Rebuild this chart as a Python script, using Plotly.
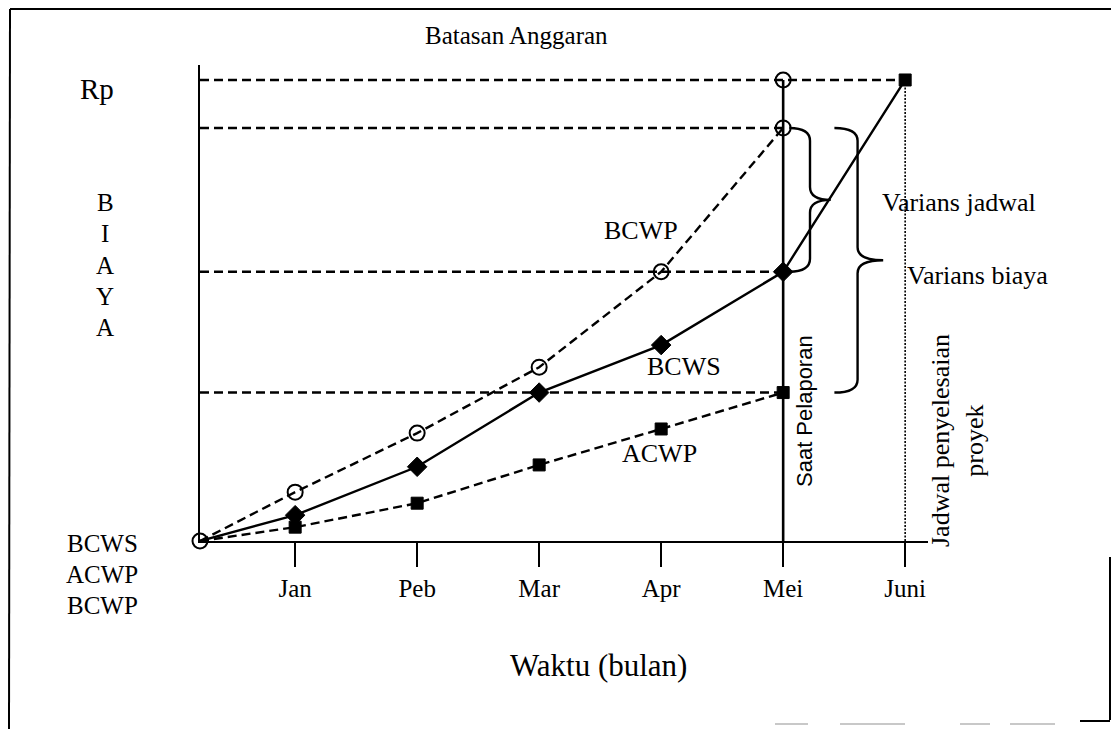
import plotly.graph_objects as go

# ---------------- data ----------------
months = ["Jan", "Peb", "Mar", "Apr", "Mei", "Juni"]
month_pos = [1, 2, 3, 4, 5, 6]
origin_x = 0.22

bcwp_y = [0, 10.6, 23.4, 37.7, 58.4, 89.6]          # origin .. Mei
bcws_y = [0, 5.6, 16.1, 32.2, 42.5, 58.4, 100.0]    # origin .. Juni
acwp_y = [0, 3.0, 8.2, 16.5, 24.3, 32.2]            # origin .. Mei
budget = 100.0
report_month = 5   # Mei  (Saat Pelaporan)
finish_month = 6   # Juni (Jadwal penyelesaian proyek)

bcwp_x = [origin_x] + month_pos[:5]
bcws_x = [origin_x] + month_pos[:6]
acwp_x = [origin_x] + month_pos[:5]

# ---------------- layout geometry (screen pixels) ----------------
W, H = 1119, 729
OFF = 8                      # default page body margin
L, R, T, B = 200, 928, 65, 541
XR = [origin_x, origin_x + (R - L) / 122.0]
YR = [0, 103.25]

def px(x):
    return (x - L) / (R - L)

def py(y):
    return (B - y) / (B - T)

SERIF = "Liberation Serif, Times New Roman, serif"
SANS = "Liberation Sans, Arial, sans-serif"
BLK = "#000000"
DASH = "9px,5px"

fig = go.Figure()

# BCWS (solid, diamonds, square at Juni)
fig.add_trace(go.Scatter(
    x=bcws_x, y=bcws_y, mode="lines+markers", name="BCWS",
    line=dict(color=BLK, width=2.4),
    marker=dict(symbol=["circle"] + ["diamond"] * 5 + ["square"],
                size=[0] + [15] * 5 + [12], color=BLK, opacity=1,
                line=dict(color=BLK, width=1)),
    cliponaxis=False, showlegend=False))

# ACWP (dashed, filled squares)
fig.add_trace(go.Scatter(
    x=acwp_x, y=acwp_y, mode="lines+markers", name="ACWP",
    line=dict(color=BLK, width=2.4, dash=DASH),
    marker=dict(symbol="square", size=[0] + [12] * 5, color=BLK, opacity=1,
                line=dict(color=BLK, width=1)),
    cliponaxis=False, showlegend=False))

# BCWP (dashed, open circles)
fig.add_trace(go.Scatter(
    x=bcwp_x, y=bcwp_y, mode="lines+markers", name="BCWP",
    line=dict(color=BLK, width=2.4, dash=DASH),
    marker=dict(symbol="circle-open", size=15, color=BLK, opacity=1, line=dict(width=2)),
    cliponaxis=False, showlegend=False))

# Budget limit marker at reporting month
fig.add_trace(go.Scatter(
    x=[report_month], y=[budget], mode="markers", name="Batasan",
    marker=dict(symbol="circle-open", size=15, color=BLK, opacity=1, line=dict(width=2)),
    cliponaxis=False, showlegend=False))

shapes = []
# horizontal guide lines
for yv, xend in [(budget, finish_month), (bcwp_y[5], report_month),
                 (bcws_y[5], report_month), (acwp_y[5], report_month)]:
    shapes.append(dict(type="line", xref="x", yref="y", x0=origin_x, x1=xend,
                       y0=yv, y1=yv, line=dict(color=BLK, width=2.4, dash=DASH)))
# reporting time vertical line
shapes.append(dict(type="line", xref="x", yref="y", x0=report_month, x1=report_month,
                   y0=0, y1=budget, line=dict(color=BLK, width=2.6)))
# planned completion dotted line
shapes.append(dict(type="line", xref="x", yref="y", x0=finish_month, x1=finish_month,
                   y0=0, y1=budget, line=dict(color=BLK, width=1.6, dash="2px,1.5px")))


def brace(xl, xm, xt, ytop, ybot, r=2.8):
    yc = (ytop + ybot) / 2
    return (f"M {xl},{ytop} Q {xm},{ytop} {xm},{ytop - r} "
            f"L {xm},{yc + r} Q {xm},{yc} {xt},{yc} "
            f"Q {xm},{yc} {xm},{yc - r} "
            f"L {xm},{ybot + r} Q {xm},{ybot} {xl},{ybot}")

# Varians jadwal brace (BCWP - BCWS at Mei)
shapes.append(dict(type="path", xref="x", yref="y",
                   path=brace(report_month + 0.05, report_month + 0.22, report_month + 0.39,
                              bcwp_y[5], bcws_y[5]),
                   line=dict(color=BLK, width=2.4)))
# Varians biaya brace (BCWP - ACWP at Mei)
shapes.append(dict(type="path", xref="x", yref="y",
                   path=brace(report_month + 0.42, report_month + 0.61, report_month + 0.82,
                              bcwp_y[5], acwp_y[5]),
                   line=dict(color=BLK, width=2.4)))

# scanned page frame
frame = [((10, 9), (1119, 9), 2), ((10, 9), (9, 729), 2),
         ((1110, 557), (1110, 720), 2), ((1080, 721), (1110, 721), 2)]
for (x0, y0), (x1, y1), w in frame:
    shapes.append(dict(type="line", xref="paper", yref="paper",
                       x0=px(x0), y0=py(y0), x1=px(x1), y1=py(y1),
                       line=dict(color=BLK, width=w)))
for x0, x1 in [(775, 808), (840, 905), (960, 990), (1010, 1055)]:
    shapes.append(dict(type="line", xref="paper", yref="paper",
                       x0=px(x0), y0=py(724), x1=px(x1), y1=py(724),
                       line=dict(color="#c8c8c8", width=2)))

ann = []

def text(t, x, y, size=25, font=SERIF, xa="center", ya="middle", angle=0):
    ann.append(dict(text=t, x=px(x), y=py(y), xref="paper", yref="paper",
                    xanchor=xa, yanchor=ya, showarrow=False, textangle=angle,
                    font=dict(family=font, size=size, color=BLK)))

text("Batasan Anggaran", 516, 35, 25)
text("Rp", 97, 89, 29)
for i, ch in enumerate("BIAYA"):
    text(ch, 105, 203 + i * 31, 25)
for i, lab in enumerate(["BCWS", "ACWP", "BCWP"]):
    text(lab, 102, 543 + i * 31, 25)
text("BCWP", 641, 230, 26)
text("BCWS", 684, 366, 26)
text("ACWP", 659, 453, 26)
text("Varians jadwal", 880, 202, 26, xa="left")
text("Varians biaya", 905, 275, 26, xa="left")
text("Saat Pelaporan", 804, 411, 22, font=SANS, angle=-90)
text("Jadwal penyelesaian<br>proyek", 957, 441, 26, angle=-90)
text("Waktu (bulan)", 598, 665, 31)

fig.update_layout(
    width=W - OFF, height=H - OFF, autosize=False,
    margin=dict(l=L - OFF, r=W - R, t=T - OFF, b=H - B, pad=0),
    paper_bgcolor="white", plot_bgcolor="white",
    shapes=shapes, annotations=ann,
    xaxis=dict(range=XR, showgrid=False, zeroline=False, showline=True,
               linecolor=BLK, linewidth=2.4, ticks="outside", ticklen=24,
               tickwidth=1.6, tickcolor=BLK, tickvals=month_pos, ticktext=months,
               tickfont=dict(family=SERIF, size=25, color=BLK), fixedrange=True),
    yaxis=dict(range=YR, showgrid=False, zeroline=False, showline=True,
               linecolor=BLK, linewidth=2.4, ticks="", showticklabels=False,
               fixedrange=True),
)

fig.write_html("out.html")
